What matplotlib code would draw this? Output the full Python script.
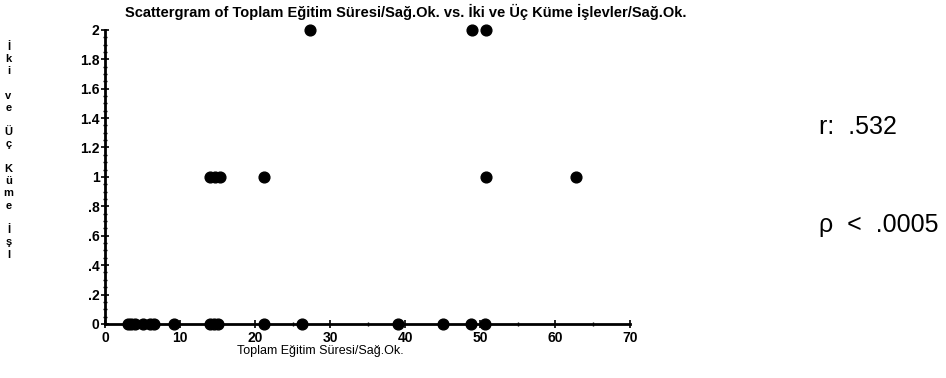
import matplotlib.pyplot as plt
from matplotlib.ticker import MultipleLocator, FuncFormatter

# data
egitim_y0 = [3, 3.5, 4, 5, 6, 6.5, 9.2, 14, 14.5, 15, 21.2, 26.2, 39, 45, 48.8, 50.7]
egitim_y1 = [14, 14.6, 15.3, 21.2, 50.8, 62.8]
egitim_y2 = [27.3, 48.9, 50.8]
kume_vals = [0, 1, 2]

x_all = egitim_y0 + egitim_y1 + egitim_y2
y_all = [kume_vals[0]] * len(egitim_y0) + [kume_vals[1]] * len(egitim_y1) + [kume_vals[2]] * len(egitim_y2)

plt.rcParams['font.family'] = ['Liberation Sans', 'DejaVu Sans']

fig = plt.figure(figsize=(9.46, 3.78), dpi=100)
ax = fig.add_axes([0.111, 0.143, 0.555, 0.778])

ax.scatter(x_all, y_all, s=60, color='black', zorder=3, clip_on=False)

ax.set_xlim(0, 70)
ax.set_ylim(0, 2)
for s in ['top', 'right']:
    ax.spines[s].set_visible(False)
for s in ['left', 'bottom']:
    ax.spines[s].set_linewidth(2)

ax.xaxis.set_major_locator(MultipleLocator(10))
ax.xaxis.set_minor_locator(MultipleLocator(5))
ax.yaxis.set_major_locator(MultipleLocator(0.2))
ax.yaxis.set_minor_locator(MultipleLocator(0.05))


def yfmt(v, pos):
    s = ('%.1f' % v).rstrip('0').rstrip('.')
    if s.startswith('0.'):
        s = s[1:]
    return s


ax.yaxis.set_major_formatter(FuncFormatter(yfmt))
ax.tick_params(which='major', direction='inout', length=6, width=1.2, labelsize=10)
ax.tick_params(which='minor', direction='inout', length=3, width=1)
for lab in ax.get_xticklabels() + ax.get_yticklabels():
    lab.set_fontweight('bold')
ax.tick_params(axis='y', pad=1)
ax.tick_params(axis='x', pad=2)

ax.set_xlabel('Toplam Eğitim Süresi/Sağ.Ok.', fontsize=9, labelpad=1)
ax.xaxis.set_label_coords(0.41, -0.07)

fig.text(0.429, 0.99, 'Scattergram of Toplam Eğitim Süresi/Sağ.Ok. vs. İki ve Üç Küme İşlevler/Sağ.Ok.',
         ha='center', va='top', fontsize=10.5, fontweight='bold')

ylab = '\n'.join(list('İki ve Üç Küme İşl'))
fig.text(0.009, 0.89, ylab, ha='center', va='top', fontsize=8, fontweight='bold', linespacing=1.28)

fig.text(0.866, 0.665, 'r:  .532', ha='left', va='center', fontsize=18)
fig.text(0.866, 0.405, 'ρ  <  .0005', ha='left', va='center', fontsize=18)

fig.savefig('out.png', dpi=100)
